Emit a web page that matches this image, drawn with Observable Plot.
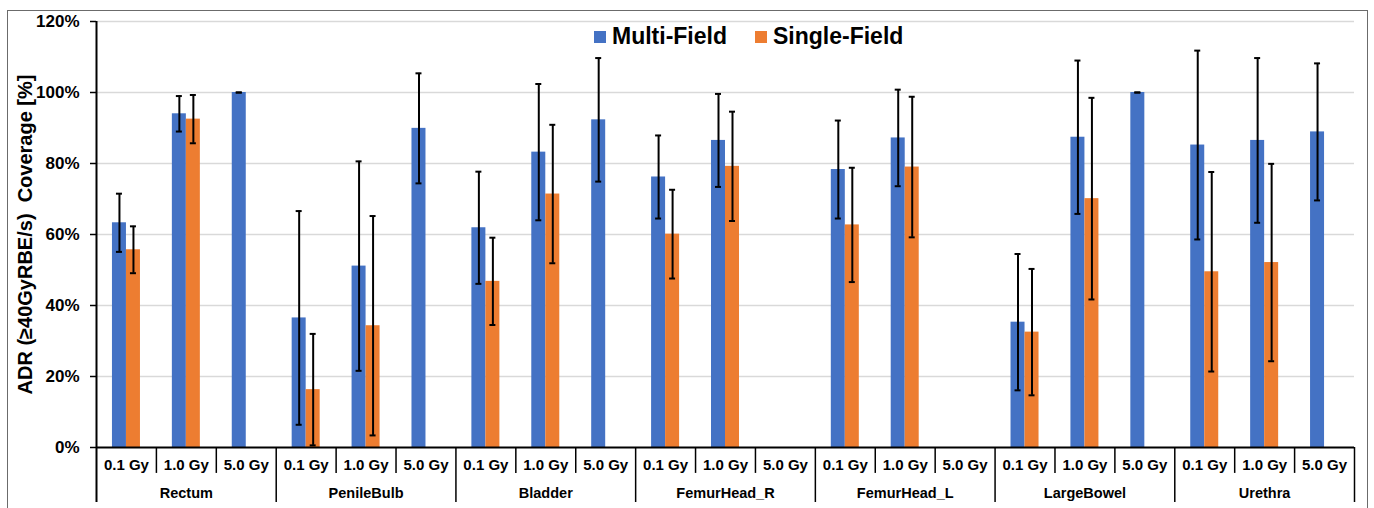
<!DOCTYPE html>
<html>
<head>
<meta charset="utf-8">
<script src="https://cdn.jsdelivr.net/npm/d3@7"></script>
<script src="https://cdn.jsdelivr.net/npm/@observablehq/plot@0.6"></script>
<style>
  html, body { margin: 0; padding: 0; background: #fff; }
  #wrap { position: relative; width: 1374px; height: 508px; overflow: hidden; font-family: "Liberation Sans", Arial, sans-serif; }
  #border { position: absolute; left: 7px; top: 10px; width: 1361px; height: 520px; border: 1.5px solid #6b6b6b; box-sizing: border-box; pointer-events: none; }
  #legend { position: absolute; top: 23px; left: 594px; display: flex; align-items: center; font-weight: bold; font-size: 23px; color: #000; }
  #legend .sw { width: 12px; height: 12px; display: inline-block; margin-right: 6px; }
  #legend .item { display: flex; align-items: center; margin-right: 28px; }
</style>
</head>
<body>
<div id="wrap">
  <div id="chart"></div>
  <div id="border"></div>
  <div id="legend"></div>
</div>
<script>
const organs = ["Rectum", "PenileBulb", "Bladder", "FemurHead_R", "FemurHead_L", "LargeBowel", "Urethra"];
const doses = ["0.1 Gy", "1.0 Gy", "5.0 Gy"];
const seriesNames = ["Multi-Field", "Single-Field"];
const seriesColors = ["#4472C4", "#ED7D31"];
const yTicks = [0, 20, 40, 60, 80, 100, 120];

// values in %, ordered organ by organ, dose by dose
const multiMean  = [63.3, 94.0, 100, 36.5, 51.1, 89.9, 61.9, 83.2, 92.3, 76.2, 86.5, null, 78.3, 87.2, null, 35.3, 87.4, 100, 85.2, 86.5, 88.9];
const multiErr   = [8.2, 5.0, 0, 30.1, 29.5, 15.5, 15.8, 19.2, 17.4, 11.7, 13.1, null, 13.8, 13.6, null, 19.2, 21.6, 0, 26.6, 23.2, 19.3];
const singleMean = [55.7, 92.5, null, 16.3, 34.3, null, 46.8, 71.4, null, 60.1, 79.2, null, 62.7, 79.0, null, 32.5, 70.1, null, 49.5, 52.1, null];
const singleErr  = [6.6, 6.8, null, 15.7, 30.9, null, 12.3, 19.5, null, 12.5, 15.4, null, 16.1, 19.8, null, 17.8, 28.4, null, 28.1, 27.8, null];

const rows = [];
organs.forEach((organ, i) => doses.forEach((dose, j) => {
  const k = i * 3 + j;
  rows.push({key: organ + "|" + dose, organ, dose, j,
    m: multiMean[k], me: multiErr[k], s: singleMean[k], se: singleErr[k]});
}));
const keys = rows.map(d => d.key);
const mRows = rows.filter(d => d.m != null);
const sRows = rows.filter(d => d.s != null);

const W = 1374, ML = 96, MR = 20;
const bw = (W - ML - MR) / keys.length;
const half = bw / 2;
const barW = 14;

const chart = Plot.plot({
  width: W, height: 508,
  marginLeft: ML, marginRight: MR, marginTop: 21, marginBottom: 61,
  style: {fontFamily: "'Liberation Sans', Arial, sans-serif", background: "transparent"},
  x: {type: "band", domain: keys, padding: 0, round: false, axis: null},
  y: {domain: [0, 120], axis: null},
  marks: [
    Plot.ruleY(yTicks.filter(t => t > 0), {stroke: "#d9d9d9", strokeWidth: 1.5}),
    Plot.barY(mRows, {x: "key", y: "m", fill: seriesColors[0], insetLeft: half - barW, insetRight: bw - (half - barW) - barW}),
    Plot.barY(sRows, {x: "key", y: "s", fill: seriesColors[1], insetLeft: half, insetRight: half - barW}),
    Plot.ruleX(mRows, {x: "key", y1: d => d.m - d.me, y2: d => d.m + d.me, dx: -barW / 2, stroke: "#000", strokeWidth: 2}),
    Plot.ruleX(sRows, {x: "key", y1: d => d.s - d.se, y2: d => d.s + d.se, dx: barW / 2, stroke: "#000", strokeWidth: 2}),
    Plot.tickY(mRows, {x: "key", y: d => d.m + d.me, insetLeft: half - barW / 2 - 3, insetRight: half + barW / 2 - 3, stroke: "#000", strokeWidth: 2}),
    Plot.tickY(mRows, {x: "key", y: d => d.m - d.me, insetLeft: half - barW / 2 - 3, insetRight: half + barW / 2 - 3, stroke: "#000", strokeWidth: 2}),
    Plot.tickY(sRows, {x: "key", y: d => d.s + d.se, insetLeft: half + barW / 2 - 3, insetRight: half - barW / 2 - 3, stroke: "#000", strokeWidth: 2}),
    Plot.tickY(sRows, {x: "key", y: d => d.s - d.se, insetLeft: half + barW / 2 - 3, insetRight: half - barW / 2 - 3, stroke: "#000", strokeWidth: 2}),
    Plot.ruleY([0], {stroke: "#000", strokeWidth: 2}),
    // left axis line continuing as first group separator
    Plot.ruleX([keys[0]], {x: d => d, dx: -half, y1: -15.5, y2: 120, stroke: "#000", strokeWidth: 2}),
    // sub-category separators
    Plot.ruleX(rows.filter(d => d.j > 0), {x: "key", dx: -half, y1: -7.3, y2: 0, stroke: "#000", strokeWidth: 1.5}),
    // group separators
    Plot.ruleX(rows.filter(d => d.j === 0).slice(1), {x: "key", dx: -half, y1: -15.5, y2: 0, stroke: "#000", strokeWidth: 1.5}),
    Plot.ruleX([keys[keys.length - 1]], {x: d => d, dx: half, y1: -15.5, y2: 0, stroke: "#000", strokeWidth: 1.5}),
    Plot.axisY({ticks: yTicks, tickFormat: d => d + "%", tickSize: 6, tickPadding: 11, fontSize: 17, fontWeight: "bold", stroke: "#000", strokeWidth: 1.5, label: null}),
    Plot.text(rows, {x: "key", y: 0, dy: 18, text: "dose", fontSize: 15, fontWeight: "bold", fill: "#000"}),
    Plot.text(rows.filter(d => d.j === 1), {x: "key", y: 0, dy: 46, text: "organ", fontSize: 14.5, fontWeight: "bold", fill: "#000"}),
    Plot.text(["ADR (\u226540GyRBE/s)\u00a0 Coverage [%]"], {text: d => d, frameAnchor: "left", textAnchor: "middle", dx: -71, rotate: -90, fontSize: 20, fontWeight: "bold", fill: "#000"})
  ]
});
document.getElementById("chart").appendChild(chart);

const legend = document.getElementById("legend");
seriesNames.forEach((name, i) => {
  const item = document.createElement("span");
  item.className = "item";
  const sw = document.createElement("span");
  sw.className = "sw";
  sw.style.background = seriesColors[i];
  item.appendChild(sw);
  item.appendChild(document.createTextNode(name));
  legend.appendChild(item);
});
</script>
</body>
</html>
